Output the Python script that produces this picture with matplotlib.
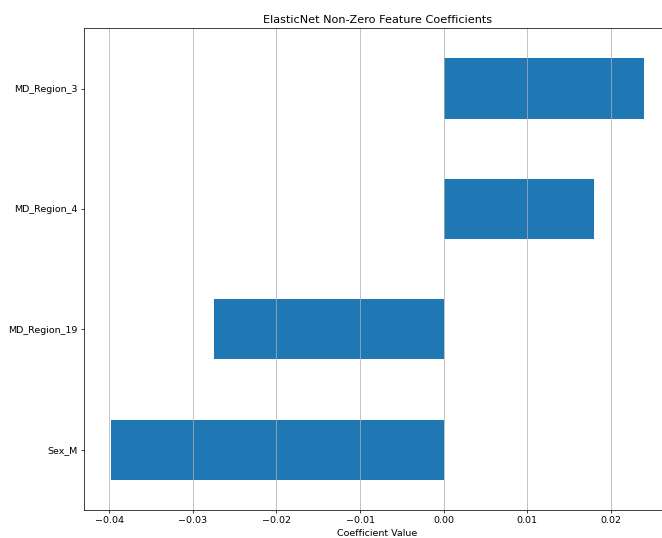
import pandas as pd
import matplotlib.pyplot as plt

# Non-zero coefficients (bottom to top)
features = ['Sex_M', 'MD_Region_19', 'MD_Region_4', 'MD_Region_3']
coefs = [-0.0398, -0.02748, 0.01794, 0.02395]

coef_series = pd.Series(coefs, index=features)

plt.rcParams['font.size'] = 10.3

fig = plt.figure(figsize=(10, 538 / 66.2), dpi=66.2)
ax = fig.add_axes([0.1273, 0.052, 1.013 - 0.1273, 0.9474 - 0.052])

coef_series.plot(kind='barh', ax=ax)

ax.set_title('ElasticNet Non-Zero Feature Coefficients', fontsize=12.2)
ax.set_xlabel('Coefficient Value')
ax.grid(axis='x')
ax.spines['right'].set_visible(False)

fig.savefig('out.png', dpi=66.2)
